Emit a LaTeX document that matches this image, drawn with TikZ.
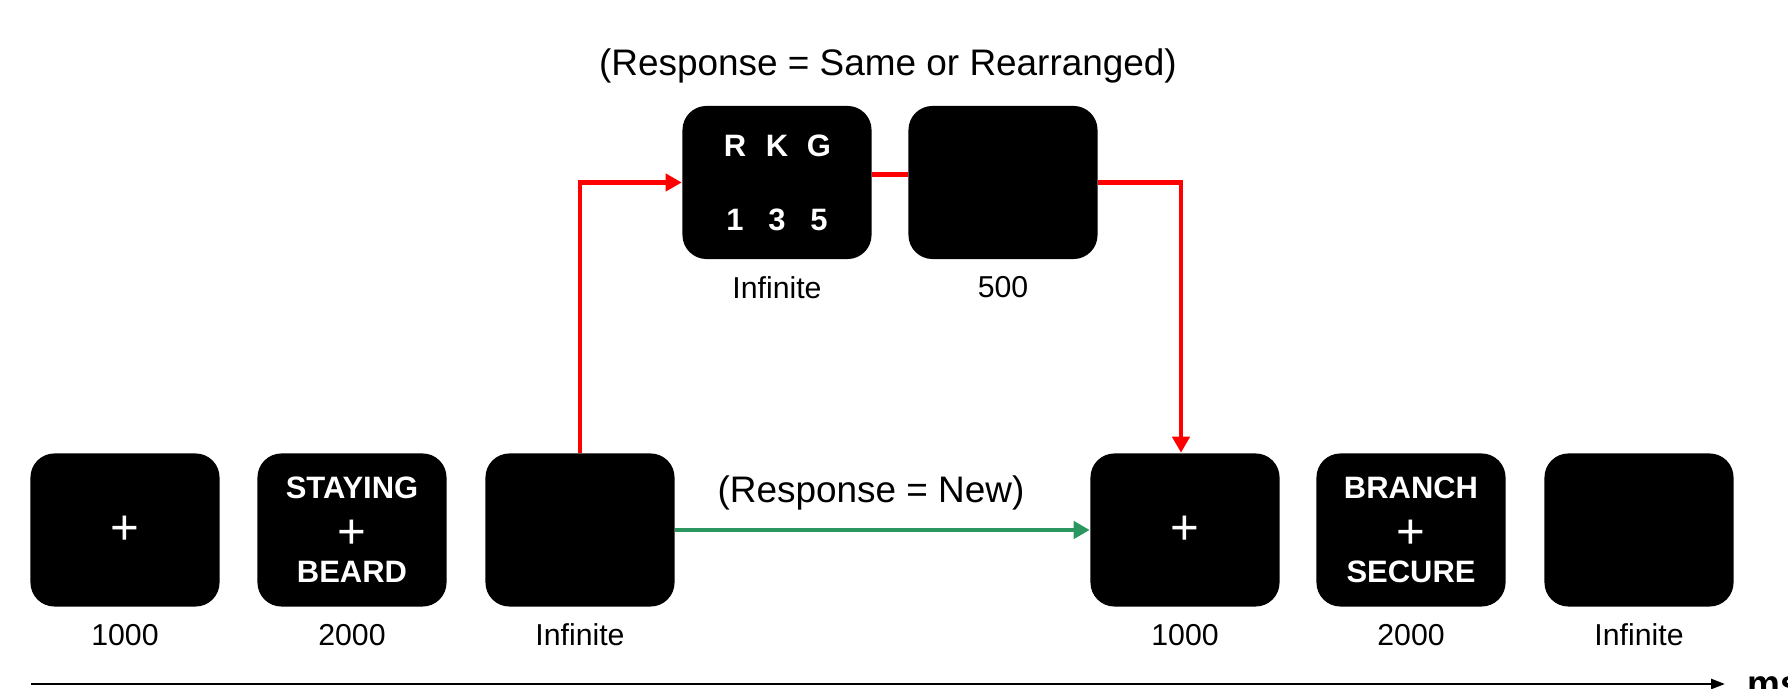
\documentclass[tikz,border=0pt]{standalone}
\usepackage{fontspec}
\setmainfont{Liberation Sans}
\usepackage{tikz}
\usetikzlibrary{arrows.meta,calc,positioning}
\definecolor{redline}{RGB}{255,0,0}
\definecolor{greenline}{RGB}{44,150,96}
\newcommand{\fixcross}{{\fontsize{14}{11.9}\selectfont\mdseries +}}
\newcommand{\midcross}{\smash{\raisebox{-0.08cm}{\fixcross}}}

\tikzset{
  screen/.style={fill=black,rounded corners=0.24cm,minimum width=1.89cm,minimum height=1.53cm,inner sep=0pt,text=white,align=center,font=\fontsize{8.8}{11.9}\selectfont\bfseries},
  dur/.style={inner sep=0pt,font=\fontsize{8.6}{10}\selectfont},
  resp/.style={inner sep=0pt,font=\fontsize{10.5}{12.6}\selectfont,anchor=base},
  redarrow/.style={draw=redline,line width=1.15pt},
  greenarrow/.style={draw=greenline,line width=1.2pt},
}

\begin{document}
\begin{tikzpicture}[x=0.01cm,y=-0.01cm]
  \useasboundingbox (0,0) rectangle (1788,689);
  \clip (0,0) rectangle (1788,689);
  % bottom row of screens
  \foreach \n/\x/\t/\l in {f1/125/\fixcross/1000,s1/352/STAYING\\\midcross\\BEARD/2000,b1/580//Infinite,f2/1185/\fixcross/1000,s2/1411/BRANCH\\\midcross\\SECURE/2000,b2/1639//Infinite} {
    \node[screen] (\n) at (\x,530) {\t};
    \node[dur,below=0.16cm of \n] (d\n) {\l};
  }
  % upper branch
  \node[screen,font=\fontsize{8.8}{21}\selectfont\bfseries] (p1) at (777,182.5) {\makebox[0.42cm]{R}\makebox[0.42cm]{K}\makebox[0.42cm]{G}\\\makebox[0.42cm]{1}\makebox[0.42cm]{3}\makebox[0.42cm]{5}};
  \node[dur,below=0.16cm of p1] (dp1) {Infinite};
  \node[screen] (m1) at (1003,182.5) {};
  \node[dur,below=0.16cm of m1] (dm1) {500};
  \node[resp] (same) at (888,76) {(Response = Same or Rearranged)};
  \draw[redarrow,-{Triangle[length=0.16cm,width=0.17cm]}] (b1.north) |- (p1.west);
  \draw[redarrow] ([yshift=0.08cm]p1.east) -- ([yshift=0.08cm]m1.west);
  \draw[redarrow,-{Triangle[length=0.16cm,width=0.17cm]}] (m1.east) -| ([xshift=-0.04cm]f2.north);
  % lower branch
  \draw[greenarrow,-{Triangle[length=0.16cm,width=0.17cm]}] (b1.east) -- (f2.west);
  \node[resp] (new) at (871,503) {(Response = New)};
  % time axis
  \coordinate (t0) at (31,684);
  \coordinate (t1) at (1725,684);
  \draw[line width=0.7pt,-{Triangle[length=0.14cm,width=0.1cm]}] (t0) -- (t1);
  \node[resp,anchor=base west,font=\fontsize{10.5}{12.6}\selectfont\bfseries] (ms) at (1747,697) {ms};
\end{tikzpicture}
\end{document}
